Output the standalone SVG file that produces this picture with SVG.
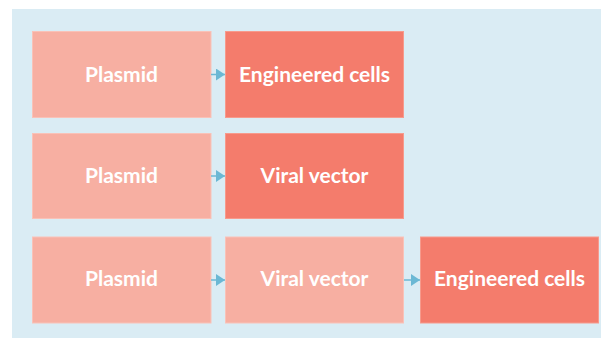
<svg xmlns="http://www.w3.org/2000/svg" width="605" height="338" viewBox="0 0 605 338">
<style>
.light{fill:#f7afa2;stroke:#f9c2b8;stroke-width:1}
.dark{fill:#f47c6c;stroke:#f79a8c;stroke-width:1}
.t{font-family:Lato,"Open Sans",sans-serif;font-weight:bold;font-size:21px;fill:#ffffff;text-anchor:middle;dominant-baseline:central}
.c{stroke:#6bb8d4;stroke-width:1.5;fill:none}
</style>
<defs>
<marker id="ah" markerWidth="9" markerHeight="12" refX="9" refY="6" orient="auto" markerUnits="userSpaceOnUse">
<path d="M0,0 L9,6 L0,12 Z" fill="#6bb8d4"/>
</marker>
</defs>
<rect x="12" y="9" width="589" height="329" fill="#daecf4"/>
<g id="n1"><rect class="light" x="32.5" y="31.5" width="178.5" height="86"/><text class="t" x="121.5" y="73">Plasmid</text></g>
<g id="n2"><rect class="dark" x="225.5" y="31.5" width="178" height="86"/><text class="t" x="314.5" y="73">Engineered cells</text></g>
<g id="n3"><rect class="light" x="32.5" y="133.5" width="178.5" height="85"/><text class="t" x="121.5" y="174.5">Plasmid</text></g>
<g id="n4"><rect class="dark" x="225.5" y="133.5" width="178" height="85"/><text class="t" x="314.5" y="174.5">Viral vector</text></g>
<g id="n5"><rect class="light" x="32.5" y="237" width="178.5" height="86"/><text class="t" x="121.5" y="277.5">Plasmid</text></g>
<g id="n6"><rect class="light" x="225.5" y="237" width="178" height="86"/><text class="t" x="314.5" y="277.5">Viral vector</text></g>
<g id="n7"><rect class="dark" x="420.5" y="237" width="178" height="86"/><text class="t" x="509.5" y="277.5">Engineered cells</text></g>
<g id="connectors">
<line class="c" x1="211" y1="74.5" x2="225" y2="74.5" marker-end="url(#ah)"/>
<line class="c" x1="211" y1="176" x2="225" y2="176" marker-end="url(#ah)"/>
<line class="c" x1="211" y1="280" x2="225" y2="280" marker-end="url(#ah)"/>
<line class="c" x1="404" y1="280" x2="420" y2="280" marker-end="url(#ah)"/>
</g>
</svg>
